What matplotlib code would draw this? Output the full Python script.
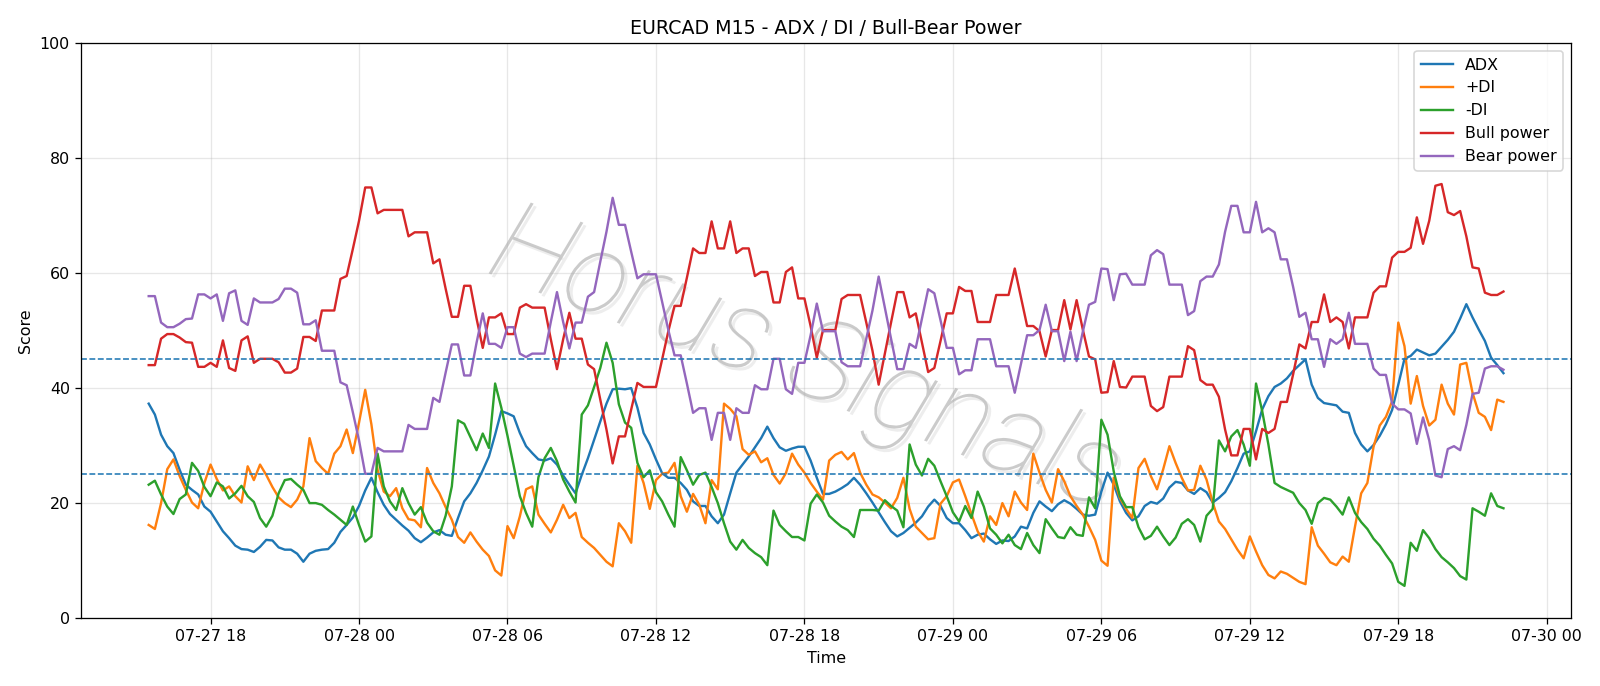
import numpy as np
import pandas as pd
import matplotlib
matplotlib.use("Agg")
import matplotlib.pyplot as plt
import matplotlib.dates as mdates
import matplotlib.patheffects as pe

# 15-minute bars, EURCAD
times = pd.date_range("2025-07-27 15:30", periods=220, freq="15min")

adx = [
    37.3, 35.4, 31.9, 29.9, 28.7, 25.8, 23.2, 22.3, 21.5, 19.4, 18.5, 16.8, 15.1, 13.9, 12.6, 12.0,
    11.9, 11.5, 12.4, 13.6, 13.5, 12.3, 11.9, 11.9, 11.2, 9.8, 11.2, 11.7, 11.9, 12.0, 13.1, 15.0,
    16.2, 17.5, 19.5, 22.2, 24.4, 21.9, 19.7, 18.1, 17.1, 16.1, 15.2, 13.9, 13.2, 14.0, 14.9, 15.3,
    14.5, 14.3, 17.4, 20.3, 21.7, 23.5, 25.7, 28.1, 31.9, 36.0, 35.6, 35.1, 32.2, 29.9, 28.7,
    27.6, 27.4, 27.8, 26.7, 24.8, 23.2, 21.7, 24.9, 27.8, 31.0, 34.2, 37.3, 39.8, 39.9, 39.8, 40.0,
    36.6, 32.2, 30.2, 27.6, 25.2, 24.4, 24.4, 23.5, 22.3, 20.3, 19.5, 19.5, 17.7, 16.5, 18.0,
    21.7, 25.3, 26.7, 28.1, 29.7, 31.3, 33.3, 31.3, 29.7, 29.1, 29.5, 29.8, 29.8, 27.4, 24.4,
    21.6, 21.6, 22.0, 22.6, 23.3, 24.4, 23.2, 21.7, 20.1, 18.4, 16.7, 15.1, 14.2, 14.8, 15.7,
    16.6, 17.7, 19.4, 20.6, 19.5, 17.4, 16.5, 16.5, 15.3, 13.9, 14.5, 14.7, 13.7, 12.9, 13.5, 13.4,
    14.2, 15.9, 15.6, 18.3, 20.3, 19.4, 18.6, 19.8, 20.5, 19.9, 19.0, 18.0, 17.8, 18.0, 22.0,
    25.3, 23.2, 20.3, 18.3, 17.0, 17.7, 19.5, 20.2, 19.9, 20.8, 22.7, 23.7, 23.5, 22.2, 21.6, 22.6,
    21.9, 20.1, 20.9, 21.9, 23.8, 26.1, 28.6, 29.0, 32.5, 36.3, 38.6, 40.2, 40.8, 41.7, 43.0,
    44.0, 45.0, 40.6, 38.3, 37.4, 37.2, 37.0, 35.9, 35.7, 32.2, 30.2, 29.0, 30.1, 31.7, 33.7, 36.2,
    40.6, 45.1, 45.6, 46.7, 46.2, 45.7, 46.0, 47.2, 48.4, 49.8, 52.1, 54.6, 52.3, 50.2, 48.2, 45.3,
    44.0, 42.6,
]

plus_di = [
    16.2, 15.5, 20.0, 25.9, 27.6, 24.7, 22.3, 20.1, 19.1, 23.5, 26.7, 24.2, 22.2, 22.9, 21.2, 20.1,
    26.4, 24.0, 26.7, 24.9, 22.8, 21.0, 20.0, 19.3, 20.6, 22.9, 31.3, 27.3, 26.1, 25.1, 28.6, 29.9,
    32.8, 28.7, 34.0, 39.7, 33.7, 25.8, 22.0, 21.2, 22.6, 19.1, 17.2, 17.0, 15.8, 26.1, 23.5, 21.7,
    19.3, 17.1, 14.1, 13.1, 14.9, 13.3, 11.9, 10.8, 8.3, 7.4, 16.0, 13.9, 17.7, 22.4, 22.9,
    18.0, 16.4, 14.9, 17.1, 19.7, 17.4, 18.3, 14.1, 13.1, 12.2, 11.0, 9.8, 9.0, 16.5, 15.1, 13.1,
    26.5, 23.5, 19.0, 24.0, 25.1, 25.3, 27.0, 21.2, 18.5, 21.6, 19.7, 16.5, 24.0, 22.4, 37.3,
    36.4, 35.1, 29.4, 28.4, 29.0, 27.1, 27.8, 24.9, 23.4, 25.2, 28.6, 26.7, 25.3, 23.5, 22.0,
    20.6, 27.4, 28.4, 28.9, 27.6, 28.7, 25.3, 23.2, 21.5, 21.0, 20.1, 19.1, 20.9, 24.4, 19.0,
    15.9, 14.8, 13.7, 13.9, 19.9, 21.2, 23.6, 24.1, 21.2, 18.1, 15.1, 13.3, 17.7, 16.2, 20.0, 17.7,
    22.0, 20.1, 18.8, 28.6, 25.3, 22.3, 20.1, 25.9, 23.8, 21.2, 19.5, 18.0, 15.9, 13.6, 10.0,
    9.1, 24.4, 20.9, 19.0, 17.4, 26.1, 27.7, 24.7, 22.4, 25.9, 29.9, 27.0, 24.4, 22.2, 22.3, 26.5,
    24.1, 20.1, 16.8, 15.5, 13.7, 11.9, 10.4, 14.2, 11.6, 9.2, 7.5, 6.9, 8.1, 7.7, 7.0,
    6.3, 5.9, 15.8, 12.6, 11.2, 9.7, 9.2, 10.7, 9.8, 15.9, 21.7, 23.5, 29.8, 33.5, 35.0, 37.7,
    51.4, 47.3, 37.3, 42.1, 36.9, 33.5, 34.5, 40.6, 37.3, 35.4, 44.1, 44.4, 39.2, 35.7, 35.0, 32.7,
    38.0, 37.6,
]

minus_di = [
    23.2, 23.9, 21.5, 19.4, 18.1, 20.7, 21.5, 27.0, 25.6, 22.8, 21.2, 23.6, 22.9, 20.8, 21.7, 23.0,
    21.2, 20.2, 17.4, 15.9, 17.8, 21.7, 24.0, 24.2, 23.2, 22.3, 20.0, 20.0, 19.7, 18.8, 18.0, 17.1,
    16.2, 19.4, 16.2, 13.3, 14.2, 28.6, 22.9, 20.3, 18.8, 22.6, 20.0, 18.0, 19.3, 16.6, 15.1, 14.5,
    17.8, 22.9, 34.4, 33.8, 31.5, 29.2, 32.1, 29.6, 40.8, 36.6, 31.7, 26.5, 21.2, 18.3, 15.9,
    24.5, 27.8, 29.6, 27.3, 24.1, 22.0, 20.1, 35.4, 37.0, 40.2, 43.5, 47.9, 44.4, 37.2, 34.0, 33.1,
    27.0, 24.5, 25.7, 21.9, 20.3, 18.0, 15.9, 28.0, 25.7, 23.2, 24.9, 25.3, 22.8, 20.0, 16.5,
    13.3, 11.9, 13.6, 12.2, 11.3, 10.6, 9.2, 18.7, 16.2, 15.1, 14.1, 14.1, 13.5, 19.9, 21.5,
    20.1, 17.8, 16.8, 15.9, 15.3, 14.1, 18.8, 18.8, 18.8, 18.7, 20.5, 19.5, 18.7, 15.8, 30.2,
    26.7, 24.8, 27.7, 26.5, 23.8, 21.2, 18.4, 16.8, 19.5, 17.4, 22.0, 19.4, 15.6, 14.5, 13.0, 14.5,
    12.7, 12.0, 14.8, 12.7, 11.3, 17.2, 15.6, 14.1, 13.9, 15.8, 14.5, 14.3, 21.0, 19.1, 34.5,
    31.9, 25.5, 21.2, 19.3, 19.3, 15.8, 13.7, 14.3, 15.9, 14.2, 12.7, 14.0, 16.4, 17.2, 16.2, 13.3,
    17.8, 19.0, 30.9, 29.0, 31.6, 32.7, 30.2, 26.5, 40.8, 36.0, 30.2, 23.5, 22.8, 22.3, 21.8,
    20.0, 18.8, 16.4, 20.0, 20.9, 20.6, 19.4, 18.0, 21.0, 18.3, 16.7, 15.5, 13.8, 12.6, 11.0, 9.5,
    6.3, 5.6, 13.1, 11.7, 15.3, 13.9, 12.0, 10.6, 9.7, 8.7, 7.3, 6.7, 19.1, 18.5, 17.8, 21.7,
    19.5, 19.1,
]

bull_power = [
    44.0, 44.0, 48.6, 49.4, 49.4, 48.8, 48.0, 47.9, 43.7, 43.7, 44.4, 43.7, 48.3, 43.5, 43.0, 48.3,
    49.0, 44.4, 45.1, 45.1, 45.1, 44.5, 42.7, 42.7, 43.4, 48.9, 48.9, 48.2, 53.5, 53.5, 53.5, 59.0,
    59.5, 64.2, 69.1, 74.9, 74.9, 70.4, 71.0, 71.0, 71.0, 71.0, 66.4, 67.1, 67.1, 67.1, 61.7, 62.4,
    57.3, 52.4, 52.4, 57.8, 57.8, 52.1, 47.0, 52.3, 52.3, 53.0, 49.4, 49.4, 54.0, 54.6, 54.0,
    54.0, 54.0, 48.5, 43.3, 48.5, 53.1, 48.6, 48.6, 44.1, 43.3, 38.0, 32.8, 26.9, 31.6, 31.6, 36.3,
    40.9, 40.2, 40.2, 40.2, 45.0, 49.9, 54.3, 54.3, 59.2, 64.3, 63.5, 63.5, 69.0, 64.3, 64.3,
    69.0, 63.5, 64.3, 64.3, 59.5, 60.2, 60.2, 54.9, 54.9, 60.2, 61.0, 55.6, 55.6, 50.8, 45.3,
    50.1, 50.1, 50.1, 55.5, 56.2, 56.2, 56.2, 51.4, 46.5, 40.6, 46.0, 51.4, 56.7, 56.7, 52.3,
    53.0, 47.9, 42.8, 43.5, 48.2, 53.0, 53.0, 57.6, 56.9, 56.9, 51.5, 51.5, 51.5, 56.2, 56.2, 56.2,
    60.8, 55.8, 50.8, 50.8, 49.9, 45.5, 50.1, 50.1, 55.3, 50.2, 55.3, 50.2, 45.5, 45.0, 39.2,
    39.3, 44.7, 40.2, 40.1, 42.0, 42.0, 42.0, 36.9, 36.0, 36.7, 42.0, 42.0, 42.0, 47.3, 46.6, 41.4,
    40.6, 40.6, 38.5, 32.8, 28.3, 28.3, 32.9, 32.9, 27.6, 32.9, 32.2, 32.9, 37.6, 37.6, 42.4,
    47.6, 46.9, 51.5, 51.5, 56.3, 51.5, 52.3, 51.5, 46.9, 52.3, 52.3, 52.3, 56.6, 57.7, 57.7, 62.7,
    63.7, 63.7, 64.4, 69.7, 65.1, 69.1, 75.2, 75.5, 70.6, 70.1, 70.8, 66.4, 61.0, 60.8, 56.6, 56.2,
    56.2, 56.8,
]

bear_power = [
    56.0, 56.0, 51.4, 50.6, 50.6, 51.2, 52.0, 52.1, 56.3, 56.3, 55.6, 56.3, 51.7, 56.5, 57.0, 51.7,
    51.0, 55.6, 54.9, 54.9, 54.9, 55.5, 57.3, 57.3, 56.6, 51.1, 51.1, 51.8, 46.5, 46.5, 46.5, 41.0,
    40.5, 35.8, 30.9, 25.1, 25.1, 29.6, 29.0, 29.0, 29.0, 29.0, 33.6, 32.9, 32.9, 32.9, 38.3, 37.6,
    42.7, 47.6, 47.6, 42.2, 42.2, 47.9, 53.0, 47.7, 47.7, 47.0, 50.6, 50.6, 46.0, 45.4, 46.0,
    46.0, 46.0, 51.5, 56.7, 51.5, 46.9, 51.4, 51.4, 55.9, 56.7, 62.0, 67.2, 73.1, 68.4, 68.4, 63.7,
    59.1, 59.8, 59.8, 59.8, 55.0, 50.1, 45.7, 45.7, 40.8, 35.7, 36.5, 36.5, 31.0, 35.7, 35.7,
    31.0, 36.5, 35.7, 35.7, 40.5, 39.8, 39.8, 45.1, 45.1, 39.8, 39.0, 44.4, 44.4, 49.2, 54.7,
    49.9, 49.9, 49.9, 44.5, 43.8, 43.8, 43.8, 48.6, 53.5, 59.4, 54.0, 48.6, 43.3, 43.3, 47.7,
    47.0, 52.1, 57.2, 56.5, 51.8, 47.0, 47.0, 42.4, 43.1, 43.1, 48.5, 48.5, 48.5, 43.8, 43.8, 43.8,
    39.2, 44.2, 49.2, 49.2, 50.1, 54.5, 49.9, 49.9, 44.7, 49.8, 44.7, 49.8, 54.5, 55.0, 60.8,
    60.7, 55.3, 59.8, 59.9, 58.0, 58.0, 58.0, 63.1, 64.0, 63.3, 58.0, 58.0, 58.0, 52.7, 53.4, 58.6,
    59.4, 59.4, 61.5, 67.2, 71.7, 71.7, 67.1, 67.1, 72.4, 67.1, 67.8, 67.1, 62.4, 62.4, 57.6,
    52.4, 53.1, 48.5, 48.5, 43.7, 48.5, 47.7, 48.5, 53.1, 47.7, 47.7, 47.7, 43.4, 42.3, 42.3, 37.3,
    36.3, 36.3, 35.6, 30.3, 34.9, 30.9, 24.8, 24.5, 29.4, 29.9, 29.2, 33.6, 39.0, 39.2, 43.4, 43.8,
    43.8, 43.2,
]

fig = plt.figure(figsize=(14, 6.003), dpi=1600 / 14)
ax = fig.add_axes([0.0506, 0.099, 0.9314, 0.838])

# watermark (thin italic, light grey with a faint shadow)
ax.text(0.486, 0.445, "Horus Signals", transform=ax.transAxes, fontsize=72,
        family="Roboto", fontweight=100, fontstyle="italic",
        rotation=-21, ha="center", va="center", color="#c2c2c2", alpha=0.85,
        zorder=0,
        path_effects=[pe.SimplePatchShadow(offset=(2, -2), shadow_rgbFace="#ebebeb", alpha=0.9),
                      pe.Normal()])

ax.plot(times, adx, label="ADX", color="#1f77b4")
ax.plot(times, plus_di, label="+DI", color="#ff7f0e")
ax.plot(times, minus_di, label="-DI", color="#2ca02c")
ax.plot(times, bull_power, label="Bull power", color="#d62728")
ax.plot(times, bear_power, label="Bear power", color="#9467bd")

ax.axhline(45, linestyle="--", linewidth=1, color="#1f77b4")
ax.axhline(25, linestyle="--", linewidth=1, color="#1f77b4")

ax.set_ylim(0, 100)
ax.xaxis.set_major_locator(mdates.HourLocator(byhour=[0, 6, 12, 18]))
ax.xaxis.set_major_formatter(mdates.DateFormatter("%m-%d %H"))
ax.grid(True, alpha=0.3)
ax.set_title("EURCAD M15 - ADX / DI / Bull-Bear Power")
ax.set_xlabel("Time")
ax.set_ylabel("Score")
ax.legend(loc="upper right")

fig.savefig("out.png")
